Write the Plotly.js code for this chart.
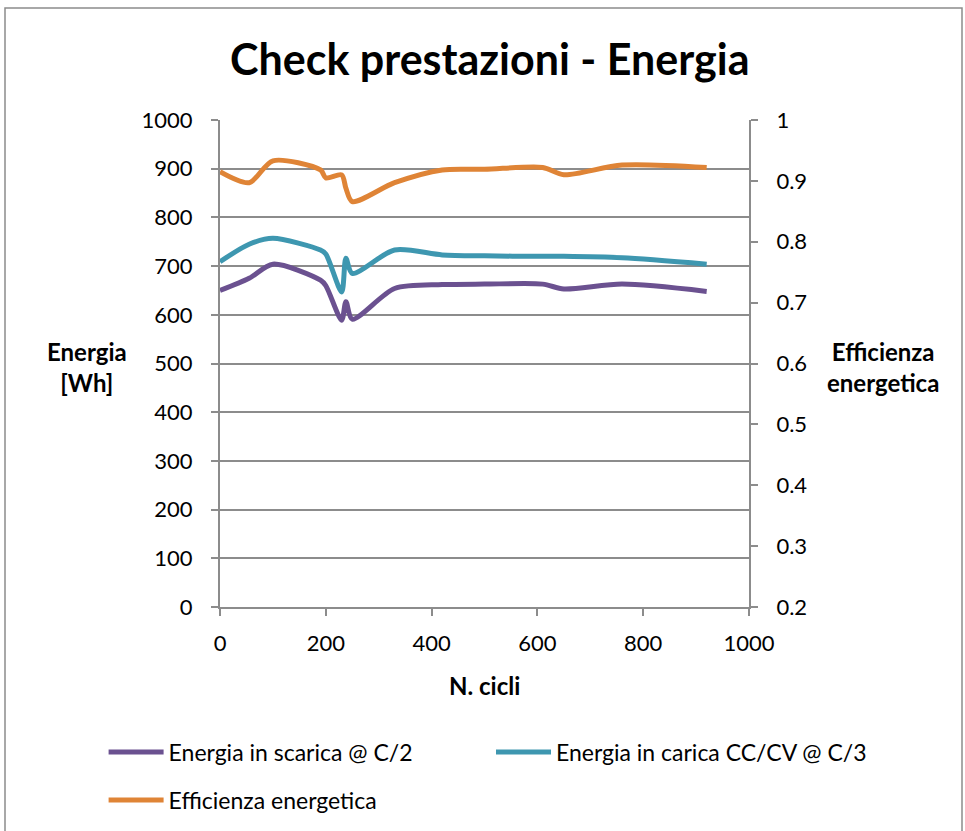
<!DOCTYPE html>
<html>
<head>
<meta charset="utf-8">
<script src="https://cdn.plot.ly/plotly-3.0.1.min.js"></script>
<style>html,body{margin:0;padding:0;background:#fff;}#chart{width:965px;height:831px;}</style>
</head>
<body>
<div id="chart"></div>
<script>
const cycles = [0, 55, 100, 190, 200, 230, 238, 250, 330, 420, 500, 610, 650, 760, 920];
const energiaScarica = [650, 675, 704, 671, 660, 589, 627, 591, 654, 662, 663, 663, 653, 663, 648];
const energiaCarica = [709, 745, 757, 733, 725, 647, 716, 685, 733, 723, 721, 720, 720, 717, 704];
const efficienza = [0.915, 0.897, 0.933, 0.918, 0.905, 0.910, 0.888, 0.866, 0.897, 0.918, 0.919, 0.922, 0.910, 0.926, 0.922];
const seriesNames = ["Energia in scarica @ C/2", "Energia in carica CC/CV @ C/3", "Efficienza energetica"];
const FONT = "Lato, 'Open Sans', sans-serif";
const axisGray = "#8c8c8c";

const traces = [
  {x: cycles, y: energiaScarica, name: seriesNames[0], type: "scatter", mode: "lines", legend: "legend",
   line: {color: "#6B5190", width: 5, shape: "spline", smoothing: 0.8}},
  {x: cycles, y: energiaCarica, name: seriesNames[1], type: "scatter", mode: "lines", legend: "legend2",
   line: {color: "#3E97B0", width: 5, shape: "spline", smoothing: 0.8}},
  {x: cycles, y: efficienza, name: seriesNames[2], type: "scatter", mode: "lines", yaxis: "y2", legend: "legend3",
   line: {color: "#DF8436", width: 5, shape: "spline", smoothing: 0.8}}
];

const legendCommon = {orientation: "h", xref: "container", yref: "container", xanchor: "left", yanchor: "middle",
                      font: {family: FONT, size: 23}, itemwidth: 55, bgcolor: "rgba(0,0,0,0)"};

const layout = {
  width: 965, height: 831,
  margin: {l: 220, r: 216, t: 120, b: 224},
  paper_bgcolor: "#fff", plot_bgcolor: "#fff",
  font: {family: FONT, size: 22, color: "#000"},
  showlegend: true,
  title: {text: "<b>Check prestazioni - Energia</b>", font: {family: FONT, size: 43, color: "#000"},
          x: 0.51, xref: "paper", xanchor: "center", y: 0.928, yanchor: "middle"},
  xaxis: {range: [0, 1000], dtick: 200, tick0: 0, showgrid: false, zeroline: false,
          showline: true, linecolor: axisGray, linewidth: 2, ticks: "outside", ticklen: 7,
          tickcolor: axisGray, tickwidth: 2, ticklabelstandoff: 9, tickfont: {size: 22}},
  yaxis: {range: [0, 1000], dtick: 100, tick0: 0, showgrid: true, gridcolor: axisGray, gridwidth: 2,
          zeroline: false, showline: true, linecolor: axisGray, linewidth: 2, ticks: "outside",
          ticklen: 7, tickcolor: axisGray, tickwidth: 2, ticklabelstandoff: 14, tickfont: {size: 22}},
  yaxis2: {range: [0.2, 1], dtick: 0.1, tick0: 0.2, overlaying: "y", side: "right", showgrid: false,
           zeroline: false, showline: true, linecolor: axisGray, linewidth: 2, ticks: "outside",
           ticklen: 7, tickcolor: axisGray, tickwidth: 2, ticklabelstandoff: 14, tickfont: {size: 22}},
  legend: Object.assign({}, legendCommon, {x: 103.6 / 965, y: 1 - 752 / 831}),
  legend2: Object.assign({}, legendCommon, {x: 491 / 965, y: 1 - 752 / 831}),
  legend3: Object.assign({}, legendCommon, {x: 103.6 / 965, y: 1 - 800 / 831}),
  annotations: [
    {text: "<b>Energia<br>[Wh]</b>", xref: "paper", yref: "paper", x: (87 - 220) / 529, y: (607 - 367) / 487,
     xanchor: "center", yanchor: "middle", showarrow: false, font: {family: FONT, size: 24}},
    {text: "<b>Efficienza<br>energetica</b>", xref: "paper", yref: "paper", x: (883 - 220) / 529, y: (607 - 367) / 487,
     xanchor: "center", yanchor: "middle", showarrow: false, font: {family: FONT, size: 24}},
    {text: "<b>N. cicli</b>", xref: "paper", yref: "paper", x: (484 - 220) / 529, y: (607 - 685) / 487,
     xanchor: "center", yanchor: "middle", showarrow: false, font: {family: FONT, size: 24}}
  ],
  shapes: [
    {type: "rect", xref: "paper", yref: "paper", x0: (5 - 220) / 529, x1: (962 - 220) / 529,
     y0: (607 - 840) / 487, y1: (607 - 8) / 487, line: {color: axisGray, width: 1.5}, layer: "below"}
  ]
};

Plotly.newPlot("chart", traces, layout, {displayModeBar: false, staticPlot: true});
</script>
</body>
</html>
